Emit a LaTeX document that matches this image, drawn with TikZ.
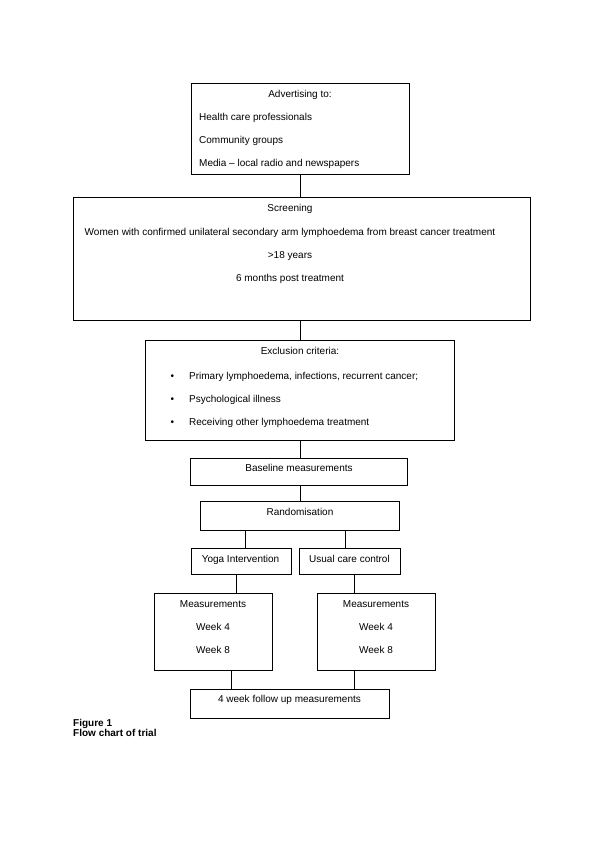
\documentclass[tikz,border=0pt]{standalone}
\usepackage{fontspec}
\setmainfont{Liberation Sans}
\usepackage{tikz}

\tikzset{
	box/.style = {draw, line width = .75pt, inner sep = 0, anchor = north west},
	txt/.style = {anchor = base, inner sep = 0, font = \fontsize{10}{12}\selectfont},
	item/.style = {txt, anchor = base west},
	capt/.style = {item, font = \fontsize{10}{12}\selectfont\bfseries},
	link/.style = {line width = .75pt},
}

\begin{document}
\begin{tikzpicture}[x = 1pt, y = -1pt]
	\useasboundingbox [fill = white] (0,0) rectangle (600,849);
	% boxes
	\node [box, minimum width = 218, minimum height = 91] (adv) at (191,83) {};
	\node [box, minimum width = 457, minimum height = 123] (screen) at (73,197) {};
	\node [box, minimum width = 309, minimum height = 100] (excl) at (145,340) {};
	\node [box, minimum width = 217, minimum height = 27] (baseline) at (190,458) {};
	\node [box, minimum width = 199, minimum height = 29] (rand) at (200,501) {};
	\node [box, minimum width = 100, minimum height = 26] (yoga) at (191,548) {};
	\node [box, minimum width = 101, minimum height = 26] (usual) at (299,548) {};
	\node [box, minimum width = 118, minimum height = 77] (measA) at (154,593) {};
	\node [box, minimum width = 118, minimum height = 77] (measB) at (317,593) {};
	\node [box, minimum width = 199, minimum height = 29] (follow) at (190,689) {};
	% texts
	\node [txt] (adv-t) at (300,97) {Advertising to:};
	\node [item] (adv-a) at (199,120.3) {Health care professionals};
	\node [item] (adv-b) at (199,143.6) {Community groups};
	\node [item] (adv-c) at (199,166.9) {Media – local radio and newspapers};
	\node [txt] (screen-t) at (290,211.7) {Screening};
	\node [txt] (screen-a) at (290,235) {Women with confirmed unilateral secondary arm lymphoedema from breast cancer treatment};
	\node [txt] (screen-b) at (290,258.4) {>18 years};
	\node [txt] (screen-c) at (290,281.7) {6 months post treatment};
	\node [txt] (excl-t) at (300,354) {Exclusion criteria:};
	\node [item] (excl-a) at (170.3,379.3) {\makebox[18.7pt][l]{•}Primary lymphoedema, infections, recurrent cancer;};
	\node [item] (excl-b) at (170.3,402.5) {\makebox[18.7pt][l]{•}Psychological illness};
	\node [item] (excl-c) at (170.3,425.6) {\makebox[18.7pt][l]{•}Receiving other lymphoedema treatment};
	\node [txt] (baseline-t) at (299,471.7) {Baseline measurements};
	\node [txt] (rand-t) at (300,515) {Randomisation};
	\node [txt] (yoga-t) at (240.5,562.7) {Yoga Intervention};
	\node [txt] (usual-t) at (349.5,562.7) {Usual care control};
	\node [txt] (measA-t) at (213,607.3) {Measurements};
	\node [txt] (measA-a) at (213,630.5) {Week 4};
	\node [txt] (measA-b) at (213,653.6) {Week 8};
	\node [txt] (measB-t) at (376,607.3) {Measurements};
	\node [txt] (measB-a) at (376,630.5) {Week 4};
	\node [txt] (measB-b) at (376,653.6) {Week 8};
	\node [txt] (follow-t) at (289.5,702.7) {4 week follow up measurements};
	% caption
	\node [capt] (fig) at (73,726) {Figure 1};
	\node [capt] (fig-t) at (73,736.8) {Flow chart of trial};
	% connectors
	\draw [link] (adv.south) -- (adv.south |- screen.north);
	\draw [link] (excl.north |- screen.south) -- (excl.north);
	\draw [link] (excl.south) -- (excl.south |- baseline.north);
	\draw [link] (rand.north |- baseline.south) -- (rand.north);
	\draw [link] ([xshift = 4.3pt]yoga.north |- rand.south) -- ([xshift = 4.3pt]yoga.north);
	\draw [link] ([xshift = -5pt]usual.north |- rand.south) -- ([xshift = -5pt]usual.north);
	\draw [link] ([xshift = -4.7pt]yoga.south) -- ([xshift = -4.7pt]yoga.south |- measA.north);
	\draw [link] ([xshift = 4pt]usual.south) -- ([xshift = 4pt]usual.south |- measB.north);
	\draw [link] ([xshift = 18pt]measA.south) -- ([xshift = 18pt]measA.south |- follow.north);
	\draw [link] ([xshift = -22pt]measB.south) -- ([xshift = -22pt]measB.south |- follow.north);
\end{tikzpicture}
\end{document}
